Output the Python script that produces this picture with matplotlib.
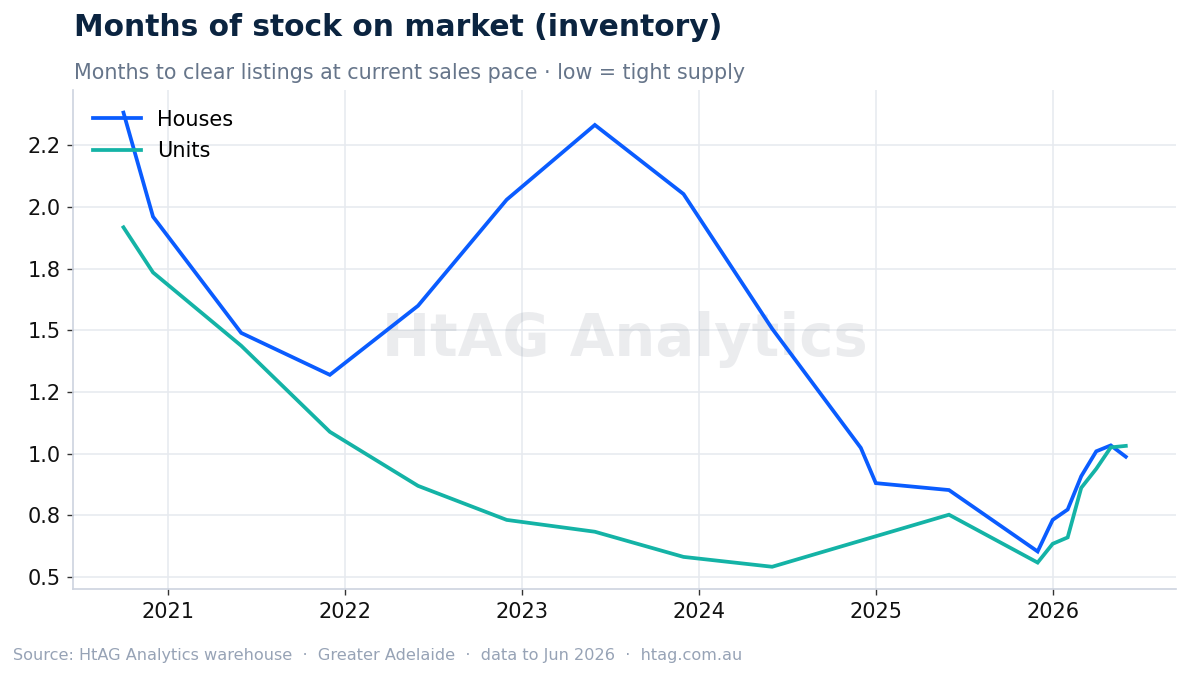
import matplotlib
matplotlib.use("Agg")
import matplotlib.pyplot as plt
import matplotlib.dates as mdates
import matplotlib.ticker as mticker
import pandas as pd

# ===== DATA =====
house_dates = ["2020-10", "2020-12", "2021-06", "2021-12", "2022-06", "2022-12",
               "2023-06", "2023-12", "2024-06", "2024-12", "2025-01", "2025-06",
               "2025-12", "2026-01", "2026-02", "2026-03", "2026-04", "2026-05",
               "2026-06"]
house_months = [2.383, 1.961, 1.490, 1.320, 1.600, 2.030,
                2.333, 2.053, 1.507, 1.024, 0.881, 0.853,
                0.604, 0.732, 0.774, 0.909, 1.010, 1.034,
                0.988]

unit_dates = ["2020-10", "2020-12", "2021-06", "2021-12", "2022-06", "2022-12",
              "2023-06", "2023-12", "2024-06", "2025-06", "2025-12", "2026-01",
              "2026-02", "2026-03", "2026-04", "2026-05", "2026-06"]
unit_months = [1.918, 1.735, 1.438, 1.089, 0.870, 0.732,
               0.684, 0.582, 0.542, 0.753, 0.559, 0.635,
               0.661, 0.862, 0.939, 1.026, 1.032]

TITLE = "Months of stock on market (inventory)"
SUBTITLE = "Months to clear listings at current sales pace \u00b7 low = tight supply"
FOOTER = ("Source: HtAG Analytics warehouse  \u00b7  Greater Adelaide  \u00b7  "
          "data to Jun 2026  \u00b7  htag.com.au")

HOUSE_COLOR = "#0a5cff"
UNIT_COLOR = "#14b3a6"
GRID_COLOR = "#e6e9ef"
SPINE_COLOR = "#cdd3df"

# ===== PLOT =====
fig = plt.figure(figsize=(11.89, 6.76), dpi=100)
ax = fig.add_axes([0.0617, 0.128, 0.9273, 0.739])

hx = pd.to_datetime(house_dates)
ux = pd.to_datetime(unit_dates)
ax.plot(hx, house_months, color=HOUSE_COLOR, linewidth=2.7, label="Houses",
        solid_joinstyle="miter", zorder=3)
ax.plot(ux, unit_months, color=UNIT_COLOR, linewidth=2.7, label="Units",
        solid_joinstyle="miter", zorder=3)

ax.text(0.5, 0.5, "HtAG Analytics", transform=ax.transAxes, ha="center",
        va="center", fontsize=41.5, fontweight="bold", color="#1e2a44",
        alpha=0.085, zorder=1)

ax.xaxis.set_major_locator(mdates.YearLocator())
ax.xaxis.set_major_formatter(mdates.DateFormatter("%Y"))
ax.yaxis.set_major_formatter(mticker.StrMethodFormatter("{x:.1f}"))

ax.grid(True, color=GRID_COLOR, linewidth=1.1, zorder=0)
ax.set_axisbelow(True)
for side in ("top", "right"):
    ax.spines[side].set_visible(False)
for side in ("left", "bottom"):
    ax.spines[side].set_color(SPINE_COLOR)
    ax.spines[side].set_linewidth(1.2)
ax.tick_params(axis="both", labelsize=15, length=4, width=1, color="#333333",
               labelcolor="#111111", pad=5)

ax.legend(loc="upper left", frameon=False, fontsize=15, handlelength=2.3,
          borderaxespad=0.55, labelspacing=0.55, handletextpad=0.75)

fig.text(0.0622, 0.9467, TITLE, fontsize=21.4, fontweight="bold",
         color="#0b2440", va="baseline", ha="left")
fig.text(0.0622, 0.8824, SUBTITLE, fontsize=14.9, color="#66758a",
         va="baseline", ha="left")
fig.text(0.011, 0.0244, FOOTER, fontsize=11.6, color="#97a3b6",
         va="baseline", ha="left")

fig.savefig("out.png", dpi=100)
